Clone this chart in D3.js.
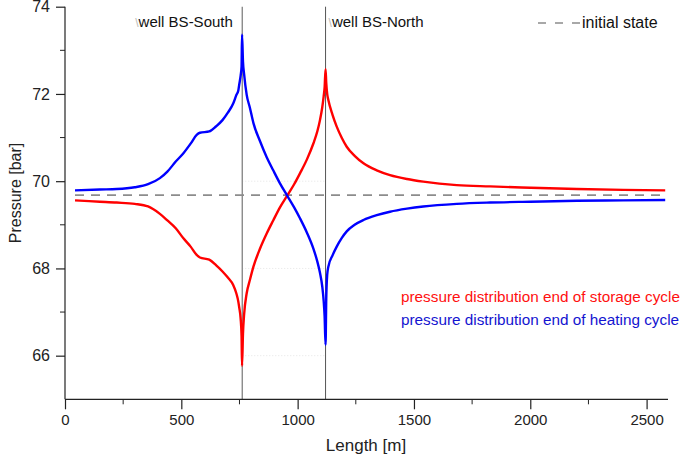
<!DOCTYPE html>
<html>
<head>
<meta charset="utf-8">
<script src="https://cdn.jsdelivr.net/npm/d3@7"></script>
<style>
  html, body { margin: 0; padding: 0; background: #fff; }
  svg { display: block; font-family: Arial, "Liberation Sans", Helvetica, sans-serif; }
</style>
</head>
<body>
<svg id="chart" width="685" height="464"></svg>
<script>
// ---- data ----
const lengthM = [43, 150, 222, 300, 357, 408, 440, 476, 509, 540, 566, 580, 620, 650, 677, 700, 723, 737, 745, 749, 755, 759, 761,
  765, 770, 781, 795, 810, 838, 867, 895, 924, 955, 985, 1010, 1040, 1068, 1085, 1096, 1106, 1112, 1116, 1120,
  1123, 1127, 1132, 1150, 1168, 1190, 1211, 1245, 1283, 1340, 1397, 1470, 1540, 1684, 1827, 2000, 2200, 2400, 2580];
const storagePressure = [69.56, 69.53, 69.51, 69.48, 69.42, 69.25, 69.10, 68.92, 68.69, 68.50, 68.31, 68.25, 68.20, 68.07, 67.93, 67.79, 67.62, 67.42, 67.24, 67.10, 66.85, 66.45, 65.77,
  66.50, 66.95, 67.43, 67.74, 68.04, 68.45, 68.80, 69.10, 69.40, 69.67, 69.93, 70.18, 70.50, 70.87, 71.15, 71.40, 71.70, 71.95, 72.15, 72.57,
  72.25, 72.00, 71.86, 71.52, 71.25, 70.99, 70.79, 70.58, 70.41, 70.25, 70.14, 70.05, 69.99, 69.91, 69.88, 69.85, 69.82, 69.80, 69.79];
const heatingPressure = [69.79, 69.81, 69.82, 69.86, 69.93, 70.07, 70.22, 70.45, 70.64, 70.86, 71.06, 71.11, 71.14, 71.26, 71.40, 71.57, 71.78, 71.98, 72.08, 72.22, 72.42, 72.63, 73.36,
  72.75, 72.45, 71.98, 71.68, 71.33, 70.92, 70.55, 70.25, 69.95, 69.67, 69.40, 69.15, 68.82, 68.45, 68.15, 67.90, 67.58, 67.25, 66.90, 66.25,
  67.30, 67.85, 68.04, 68.30, 68.50, 68.70, 68.85, 69.00, 69.11, 69.22, 69.30, 69.37, 69.42, 69.48, 69.51, 69.53, 69.55, 69.56, 69.57];
const initialPressure = 69.68;
const wellNames = ["well BS-South", "well BS-North"];
const wellPositions = [762, 1120];
const xTickValues = [0, 500, 1000, 1500, 2000, 2500];
const xMinorTicks = [250, 750, 1250, 1750, 2250];
const yTickValues = [66, 68, 70, 72, 74];
const yMinorTicks = [65, 67, 69, 71, 73];
const legendLabels = ["pressure distribution end of storage cycle", "pressure distribution end of heating cycle"];
const initialLabel = "initial state";

// ---- layout ----
const svg = d3.select("#chart");
const x = d3.scaleLinear().domain([0, 2592]).range([65, 668]);
const y = d3.scaleLinear().domain([65, 74]).range([399.3, 6.7]);
const RED = "#ff0000", BLUE = "#0000ff";

// faint dotted guides between the wells
svg.append("g").selectAll("line").data([66, 68, 70]).join("line")
  .attr("x1", x(wellPositions[0])).attr("x2", x(wellPositions[1]))
  .attr("y1", d => y(d)).attr("y2", d => y(d))
  .attr("stroke", "#e4e4e4").attr("stroke-width", 1).attr("stroke-dasharray", "1,2");

// well lines
svg.append("g").selectAll("line").data(wellPositions).join("line")
  .attr("x1", d => x(d)).attr("x2", d => x(d))
  .attr("y1", y(74)).attr("y2", y(65))
  .attr("stroke", (d, i) => i === 0 ? "#8a8a8a" : "#555")
  .attr("stroke-width", (d, i) => i === 0 ? 1.4 : 1);

// initial state dashed line
svg.append("line")
  .attr("x1", x(lengthM[0])).attr("x2", x(lengthM[lengthM.length - 1]))
  .attr("y1", y(initialPressure)).attr("y2", y(initialPressure))
  .attr("stroke", "#8c8c8c").attr("stroke-width", 1.6).attr("stroke-dasharray", "9,7");

// curves
const line = d3.line().x(d => x(d[0])).y(d => y(d[1])).curve(d3.curveMonotoneX);
svg.append("path").datum(lengthM.map((m, i) => [m, storagePressure[i]]))
  .attr("d", line).attr("fill", "none").attr("stroke", RED).attr("stroke-width", 2.4).attr("stroke-linejoin", "round");
svg.append("path").datum(lengthM.map((m, i) => [m, heatingPressure[i]]))
  .attr("d", line).attr("fill", "none").attr("stroke", BLUE).attr("stroke-width", 2.4).attr("stroke-linejoin", "round");

// axes
const xAxis = svg.append("g").attr("transform", `translate(0,${y(65)})`)
  .call(d3.axisBottom(x).tickValues(xTickValues).tickSize(10).tickPadding(5).tickFormat(d3.format("d")));
xAxis.append("g").selectAll("line").data(xMinorTicks).join("line")
  .attr("x1", d => x(d)).attr("x2", d => x(d)).attr("y1", 0).attr("y2", 5).attr("stroke", "#222");
const yAxis = svg.append("g").attr("transform", `translate(${x(0)},0)`)
  .call(d3.axisLeft(y).tickValues(yTickValues).tickSize(9).tickPadding(6).tickFormat(d3.format("d")));
yAxis.append("g").selectAll("line").data(yMinorTicks.filter(v => v > 65)).join("line")
  .attr("x1", -5).attr("x2", 0).attr("y1", d => y(d)).attr("y2", d => y(d)).attr("stroke", "#222");
[xAxis, yAxis].forEach(g => {
  g.select(".domain").attr("stroke", "#222").attr("stroke-width", 1.2);
  g.selectAll(".tick line").attr("stroke", "#222").attr("stroke-width", 1.2);
  g.selectAll("text").attr("fill", "#222").style("font-family", "Arial, 'Liberation Sans', sans-serif");
});
xAxis.select(".domain").attr("d", `M${x(0)},0H${x(2592)}`);
xAxis.selectAll(".tick text").style("font-size", "15px");
yAxis.select(".domain").attr("d", `M0,${y(74)}V${y(65)}`);
yAxis.selectAll(".tick text").style("font-size", "16px");

// axis titles
svg.append("text").attr("x", 366).attr("y", 451).attr("text-anchor", "middle")
  .attr("font-size", 17).attr("fill", "#222").text("Length [m]");
svg.append("text").attr("transform", "translate(21,193) rotate(-90)").attr("text-anchor", "middle")
  .attr("font-size", 16).attr("fill", "#222").text("Pressure [bar]");

// well labels
const wellLabelX = [x(wellPositions[0]) - 107, x(wellPositions[1]) + 3];
const wl = svg.append("g").selectAll("text").data(wellNames).join("text")
  .attr("x", (d, i) => wellLabelX[i])
  .attr("y", 27).attr("font-size", 15).attr("fill", "#111");
wl.append("tspan").attr("fill", "#bbb").attr("font-size", 12).text("\\");
wl.append("tspan").text(d => d);

// legend: initial state
svg.append("line").attr("x1", 538).attr("x2", 580).attr("y1", 23).attr("y2", 23)
  .attr("stroke", "#8c8c8c").attr("stroke-width", 1.6).attr("stroke-dasharray", "8,9");
svg.append("text").attr("x", 582).attr("y", 28).attr("font-size", 16).attr("fill", "#111").text(initialLabel);

// legend: series
svg.append("g").selectAll("text").data(legendLabels).join("text")
  .attr("x", 401).attr("y", (d, i) => 302 + i * 23.3)
  .attr("font-size", 15.3).attr("fill", (d, i) => i === 0 ? "#ff1010" : "#1414d0")
  .text(d => d);
</script>
</body>
</html>
